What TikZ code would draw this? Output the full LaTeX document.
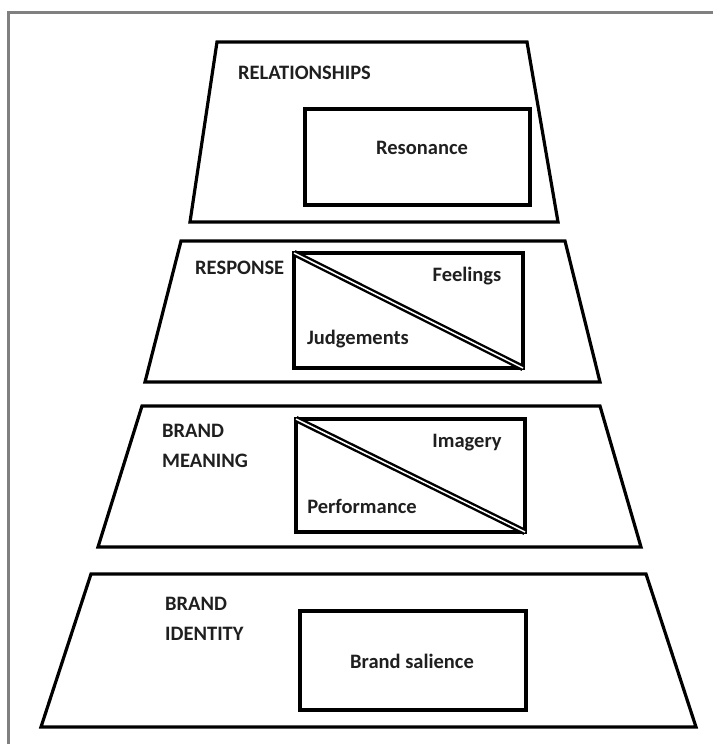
\documentclass[tikz,border=0pt]{standalone}
\usepackage{fontspec}
\setmainfont{Carlito}
\begin{document}
\begin{tikzpicture}[x=1pt,y=-1pt,
  tier/.style={line width=3.2pt, line join=miter},
  inbox/.style={draw, line width=3.4pt, inner sep=0pt, outer sep=0pt},
  split/.style={double, line width=2.4pt, double distance=1.5pt},
  lbl/.style={font=\fontsize{20.5}{24}\selectfont\bfseries, text=black!88, inner sep=0pt},
  tiername/.style={lbl, align=left, anchor=west}]
  \useasboundingbox (0,0) rectangle (712,744);
  % outer frame (top and left edges visible)
  \draw[black!50, line width=3pt] (8,760) -- (8,12) -- (730,12);

  % tier 1: relationships
  \draw[tier] (217,42) -- (527,42) -- (558,222) -- (190,222) -- cycle;
  \node[inbox, minimum width=225pt, minimum height=96pt] (r1) at (417.5,157) {};
  \node[tiername] (t1) at (238,73) {RELATIONSHIPS};
  \node[lbl] (l1) at (422,148) {Resonance};

  % tier 2: response
  \draw[tier] (181,241) -- (565,241) -- (600,382) -- (145,382) -- cycle;
  \node[inbox, minimum width=229pt, minimum height=115pt] (r2) at (408.5,310.5) {};
  \draw[split] (r2.north west) -- (r2.south east);
  \node[tiername] (t2) at (195,268) {RESPONSE};
  \node[lbl] (l2a) at (467,276) {Feelings};
  \node[lbl] (l2b) at (358,339) {Judgements};

  % tier 3: brand meaning
  \draw[tier] (142,406) -- (600,406) -- (641,547) -- (98,547) -- cycle;
  \node[inbox, minimum width=229pt, minimum height=113pt] (r3) at (410.5,475.5) {};
  \draw[split] (r3.north west) -- (r3.south east);
  \node[tiername] (t3) at (162,446) {BRAND\\[6pt]MEANING};
  \node[lbl] (l3a) at (467,443) {Imagery};
  \node[lbl] (l3b) at (362,506) {Performance};

  % tier 4: brand identity
  \draw[tier] (91,574) -- (646,574) -- (696,727) -- (41,727) -- cycle;
  \node[inbox, minimum width=226pt, minimum height=99pt] (r4) at (413,660.5) {};
  \node[tiername] (t4) at (165,619) {BRAND\\[6pt]IDENTITY};
  \node[lbl] (l4) at (412,661) {Brand salience};
\end{tikzpicture}
\end{document}
